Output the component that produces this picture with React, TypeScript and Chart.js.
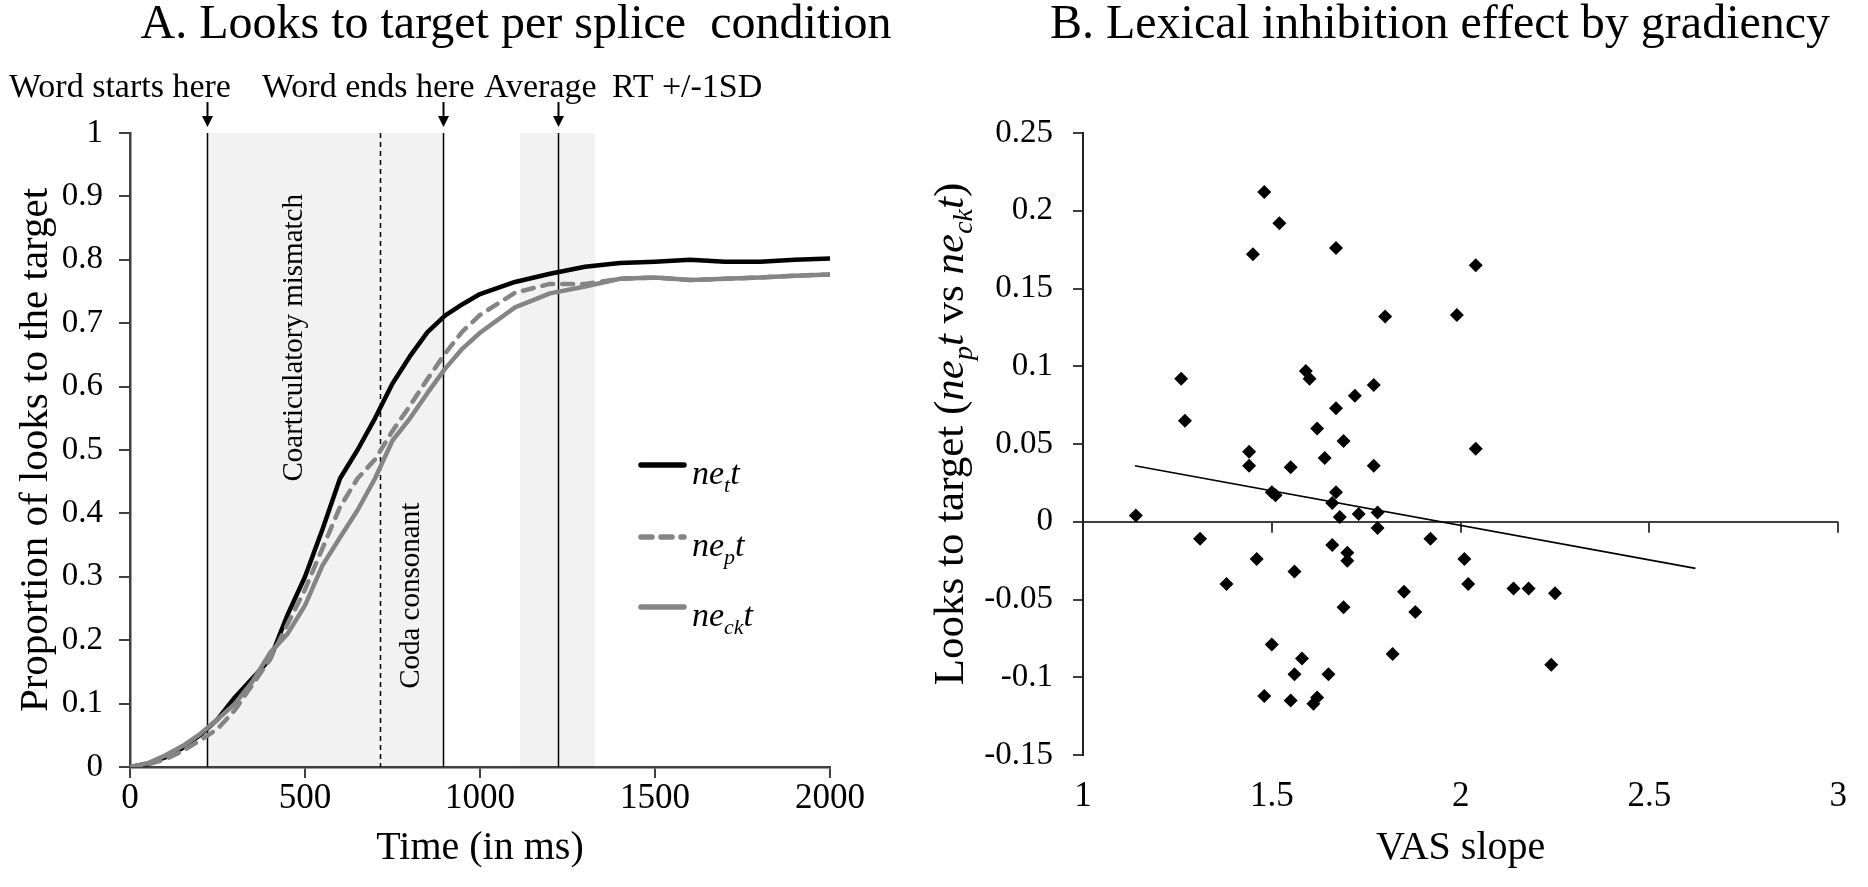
import React, { useEffect, useRef } from 'react';
import { Chart, registerables } from 'chart.js';

Chart.register(...registerables);

const SERIF = '"Liberation Serif", "Times New Roman", serif';

// ---------- Panel A data ----------
const timeMs = [0, 50, 100, 150, 200, 250, 300, 350, 400, 450, 500, 550, 600, 650, 700, 750, 800, 850, 900, 950, 1000, 1100, 1200, 1300, 1400, 1500, 1600, 1700, 1800, 1900, 2000];
const lookNeT = [0, 0.005, 0.015, 0.03, 0.05, 0.075, 0.11, 0.14, 0.17, 0.24, 0.3, 0.375, 0.455, 0.5, 0.55, 0.605, 0.648, 0.686, 0.712, 0.73, 0.746, 0.765, 0.778, 0.789, 0.795, 0.797, 0.8, 0.797, 0.797, 0.8, 0.802];
const lookNeP = [0, 0.004, 0.012, 0.025, 0.042, 0.06, 0.09, 0.13, 0.17, 0.225, 0.28, 0.345, 0.41, 0.455, 0.485, 0.53, 0.57, 0.612, 0.652, 0.687, 0.713, 0.748, 0.762, 0.762, 0.77, 0.772, 0.768, 0.77, 0.772, 0.775, 0.777];
const lookNeCk = [0, 0.006, 0.018, 0.033, 0.052, 0.075, 0.1, 0.135, 0.18, 0.21, 0.255, 0.318, 0.362, 0.405, 0.455, 0.515, 0.55, 0.59, 0.628, 0.66, 0.685, 0.725, 0.747, 0.758, 0.77, 0.772, 0.768, 0.77, 0.772, 0.775, 0.777];
const xTicksA = [0, 500, 1000, 1500, 2000];
const yTicksA = [0, 0.1, 0.2, 0.3, 0.4, 0.5, 0.6, 0.7, 0.8, 0.9, 1];
const wordStartMs = 221;
const coarticEndMs = 713;
const wordEndMs = 893;
const rtMeanMs = 1222;
const rtLowMs = 1114;
const rtHighMs = 1329;

// ---------- Panel B data ----------
const vasSlope = [1.48, 1.52, 1.45, 1.67, 2.04, 1.80, 1.99, 1.26, 1.59, 1.60, 1.77, 1.72, 1.67, 1.27, 1.62, 1.69, 2.04, 1.44, 1.44, 1.55, 1.64, 1.77, 1.14, 1.51, 1.50, 1.67, 1.66, 1.68, 1.73, 1.78, 1.78, 1.31, 1.92, 1.66, 1.70, 1.70, 1.46, 2.01, 1.56, 1.38, 2.02, 2.14, 2.18, 1.85, 1.88, 1.69, 1.50, 1.82, 1.58, 1.56, 1.65, 1.48, 1.55, 1.61, 1.62, 2.25, 2.24];
const lookDiff = [0.212, 0.192, 0.172, 0.176, 0.165, 0.132, 0.133, 0.092, 0.097, 0.092, 0.088, 0.081, 0.073, 0.065, 0.06, 0.052, 0.047, 0.045, 0.036, 0.035, 0.041, 0.036, 0.004, 0.017, 0.019, 0.019, 0.012, 0.003, 0.005, 0.006, -0.004, -0.011, -0.011, -0.015, -0.02, -0.025, -0.024, -0.024, -0.032, -0.04, -0.04, -0.043, -0.043, -0.045, -0.058, -0.055, -0.079, -0.085, -0.088, -0.098, -0.098, -0.112, -0.115, -0.117, -0.113, -0.046, -0.092];
const trendX = [1.1375, 2.622];
const trendY = [0.036, -0.03];
const xTicksB = [1, 1.5, 2, 2.5, 3];
const yTicksB = [-0.15, -0.1, -0.05, 0, 0.05, 0.1, 0.15, 0.2, 0.25];

type Part = { t: string; it?: boolean; sub?: boolean };

function drawParts(ctx: CanvasRenderingContext2D, parts: Part[], x: number, y: number, size: number, subSize: number, subDrop: number, center: boolean) {
  const fontOf = (p: Part) => `${p.it ? 'italic ' : ''}${p.sub ? subSize : size}px ${SERIF}`;
  let total = 0;
  for (const p of parts) {
    ctx.font = fontOf(p);
    total += ctx.measureText(p.t).width;
  }
  let cx = center ? x - total / 2 : x;
  ctx.textAlign = 'left';
  ctx.textBaseline = 'alphabetic';
  for (const p of parts) {
    ctx.font = fontOf(p);
    ctx.fillText(p.t, cx, y + (p.sub ? subDrop : 0));
    cx += ctx.measureText(p.t).width;
  }
}

function arrow(ctx: CanvasRenderingContext2D, x: number, y0: number, y1: number) {
  ctx.beginPath();
  ctx.moveTo(x, y0);
  ctx.lineTo(x, y1 - 8);
  ctx.lineWidth = 2;
  ctx.strokeStyle = '#000';
  ctx.stroke();
  ctx.beginPath();
  ctx.moveTo(x - 5.5, y1 - 11);
  ctx.lineTo(x + 5.5, y1 - 11);
  ctx.lineTo(x, y1);
  ctx.closePath();
  ctx.fillStyle = '#000';
  ctx.fill();
}

const panelAPlugin = {
  id: 'panelA',
  beforeDraw(chart: any) {
    const { ctx, scales } = chart;
    const x = scales.x;
    const y = scales.y;
    const yTop = y.getPixelForValue(1);
    const yBot = y.getPixelForValue(0);
    ctx.save();
    ctx.fillStyle = '#f2f2f2';
    const shade = (a: number, b: number) => {
      const xa = x.getPixelForValue(a);
      const xb = x.getPixelForValue(b);
      ctx.fillRect(xa, yTop, xb - xa, yBot - yTop);
    };
    shade(wordStartMs, wordEndMs);
    shade(rtLowMs, rtHighMs);
    ctx.restore();
  },
  beforeDatasetsDraw(chart: any) {
    const { ctx, scales } = chart;
    const x = scales.x;
    const y = scales.y;
    const yTop = y.getPixelForValue(1);
    const yBot = y.getPixelForValue(0);
    ctx.save();
    ctx.strokeStyle = '#000';
    ctx.lineWidth = 1.5;
    for (const v of [wordStartMs, wordEndMs, rtMeanMs]) {
      const px = Math.round(x.getPixelForValue(v)) + 0.5;
      ctx.beginPath();
      ctx.moveTo(px, yTop);
      ctx.lineTo(px, yBot);
      ctx.stroke();
    }
    ctx.setLineDash([5, 4]);
    const pd = Math.round(x.getPixelForValue(coarticEndMs)) + 0.5;
    ctx.beginPath();
    ctx.moveTo(pd, yTop);
    ctx.lineTo(pd, yBot);
    ctx.stroke();
    ctx.setLineDash([]);

    ctx.fillStyle = '#000';
    ctx.font = `29px ${SERIF}`;
    ctx.textAlign = 'center';
    ctx.textBaseline = 'middle';
    const rot = (txt: string, ms: number, val: number) => {
      ctx.save();
      ctx.translate(x.getPixelForValue(ms), y.getPixelForValue(val));
      ctx.rotate(-Math.PI / 2);
      ctx.fillText(txt, 0, 0);
      ctx.restore();
    };
    rot('Coarticulatory mismatch', 470, 0.677);
    rot('Coda consonant', 805, 0.27);
    ctx.restore();
  },
  afterDraw(chart: any) {
    const { ctx, scales } = chart;
    const x = scales.x;
    ctx.save();
    ctx.fillStyle = '#000';
    ctx.font = `48px ${SERIF}`;
    ctx.textAlign = 'center';
    ctx.textBaseline = 'alphabetic';
    ctx.fillText('A. Looks to target per splice  condition', 516, 38);

    ctx.font = `34px ${SERIF}`;
    ctx.textAlign = 'left';
    ctx.fillText('Word starts here', 9, 97);
    ctx.fillText('Word ends here', 262, 97);
    ctx.fillText('Average', 484, 97);
    ctx.fillText('RT +/-1SD', 612, 97);

    for (const v of [wordStartMs, wordEndMs, rtMeanMs]) {
      arrow(ctx, Math.round(x.getPixelForValue(v)) + 0.5, 102, 127);
    }

    // legend
    const legend = [
      { color: '#000', dash: [] as number[], y: 465, sub: 't' },
      { color: '#858585', dash: [11, 9], y: 537, sub: 'p' },
      { color: '#858585', dash: [] as number[], y: 607, sub: 'ck' },
    ];
    for (const l of legend) {
      ctx.beginPath();
      ctx.strokeStyle = l.color;
      ctx.lineWidth = 5.5;
      ctx.lineCap = 'round';
      ctx.setLineDash(l.dash);
      ctx.moveTo(641, l.y);
      ctx.lineTo(684, l.y);
      ctx.stroke();
      ctx.setLineDash([]);
      ctx.fillStyle = '#000';
      drawParts(ctx, [{ t: 'ne', it: true }, { t: l.sub, it: true, sub: true }, { t: 't', it: true }], 692, l.y + 19, 34, 22, 8, false);
    }
    ctx.restore();
  },
};

const panelBPlugin = {
  id: 'panelB',
  beforeDatasetsDraw(chart: any) {
    const { ctx, scales } = chart;
    const x = scales.x;
    const y = scales.y;
    const py = y.getPixelForValue(0);
    ctx.save();
    ctx.strokeStyle = '#404040';
    ctx.lineWidth = 2;
    for (const v of xTicksB) {
      if (v === xTicksB[0]) continue;
      const px = Math.round(x.getPixelForValue(v));
      ctx.beginPath();
      ctx.moveTo(px, py);
      ctx.lineTo(px, py + 11);
      ctx.stroke();
    }
    ctx.restore();
  },
  afterDraw(chart: any) {
    const { ctx } = chart;
    ctx.save();
    ctx.fillStyle = '#000';
    ctx.font = `48px ${SERIF}`;
    ctx.textAlign = 'center';
    ctx.textBaseline = 'alphabetic';
    ctx.fillText('B. Lexical inhibition effect by gradiency', 540, 38);

    ctx.translate(49, 434);
    ctx.rotate(-Math.PI / 2);
    drawParts(
      ctx,
      [
        { t: 'Looks to target (' },
        { t: 'ne', it: true },
        { t: 'p', it: true, sub: true },
        { t: 't', it: true },
        { t: ' vs ' },
        { t: 'ne', it: true },
        { t: 'ck', it: true, sub: true },
        { t: 't', it: true },
        { t: ')' },
      ],
      0,
      14,
      43,
      28,
      9,
      true
    );
    ctx.restore();
  },
};

export default function App() {
  const refA = useRef<HTMLCanvasElement>(null);
  const refB = useRef<HTMLCanvasElement>(null);

  useEffect(() => {
    const tickFontY = { family: SERIF, size: 33 };
    const tickFontX = { family: SERIF, size: 35 };

    const chartA = new Chart(refA.current as HTMLCanvasElement, {
      type: 'line',
      data: {
        datasets: [
          {
            label: 'net',
            data: timeMs.map((t, i) => ({ x: t, y: lookNeT[i] })),
            borderColor: '#000',
            borderWidth: 4.5,
            pointRadius: 0,
            tension: 0,
            borderJoinStyle: 'round',
            order: 2,
          },
          {
            label: 'nept',
            data: timeMs.map((t, i) => ({ x: t, y: lookNeP[i] })),
            borderColor: '#858585',
            borderWidth: 4.5,
            borderDash: [11, 9],
            borderCapStyle: 'round',
            borderJoinStyle: 'round',
            pointRadius: 0,
            tension: 0,
            order: 1,
          },
          {
            label: 'neckt',
            data: timeMs.map((t, i) => ({ x: t, y: lookNeCk[i] })),
            borderColor: '#858585',
            borderWidth: 4.5,
            borderJoinStyle: 'round',
            pointRadius: 0,
            tension: 0,
            order: 0,
          },
        ],
      } as any,
      options: {
        responsive: false,
        animation: false,
        events: [],
        layout: { padding: { top: 133, right: 70, left: 0, bottom: 0 } },
        plugins: { legend: { display: false }, tooltip: { enabled: false }, title: { display: false } },
        scales: {
          x: {
            type: 'linear',
            min: 0,
            max: 2000,
            afterBuildTicks: (s: any) => {
              s.ticks = xTicksA.map((v) => ({ value: v }));
            },
            afterFit: (s: any) => {
              s.height = 120;
            },
            grid: { drawOnChartArea: false, drawTicks: true, tickLength: 11, color: '#404040', lineWidth: 2 },
            border: { display: true, color: '#404040', width: 2.5 },
            ticks: { font: tickFontX, color: '#000', padding: 0, maxRotation: 0, callback: (v: any) => String(v) },
            title: { display: true, text: 'Time (in ms)', font: { family: SERIF, size: 40 }, color: '#000', padding: { top: 0, bottom: 15 } },
          },
          y: {
            type: 'linear',
            min: 0,
            max: 1,
            afterBuildTicks: (s: any) => {
              s.ticks = yTicksA.map((v) => ({ value: v }));
            },
            afterFit: (s: any) => {
              s.width = 130;
            },
            grid: { drawOnChartArea: false, drawTicks: true, tickLength: 11, color: '#404040', lineWidth: 2 },
            border: { display: true, color: '#404040', width: 2.5 },
            ticks: { font: tickFontY, color: '#000', padding: 16, callback: (v: any) => String(v) },
            title: { display: true, text: 'Proportion of looks to the target', font: { family: SERIF, size: 41 }, color: '#000', padding: { top: 12, bottom: 0 } },
          },
        },
      } as any,
      plugins: [panelAPlugin],
    });

    const chartB = new Chart(refB.current as HTMLCanvasElement, {
      type: 'scatter',
      data: {
        datasets: [
          {
            label: 'effect',
            data: vasSlope.map((v, i) => ({ x: v, y: lookDiff[i] })),
            pointStyle: 'rectRot',
            pointRadius: 7,
            backgroundColor: '#000',
            borderWidth: 0,
            order: 1,
          },
          {
            label: 'trend',
            data: trendX.map((v, i) => ({ x: v, y: trendY[i] })),
            showLine: true,
            borderColor: '#000',
            borderWidth: 1.6,
            pointRadius: 0,
            order: 0,
          },
        ],
      } as any,
      options: {
        responsive: false,
        animation: false,
        events: [],
        layout: { padding: { top: 133, right: 13, left: 0, bottom: 0 } },
        plugins: { legend: { display: false }, tooltip: { enabled: false }, title: { display: false } },
        scales: {
          x: {
            type: 'linear',
            min: 1,
            max: 3,
            afterBuildTicks: (s: any) => {
              s.ticks = xTicksB.map((v) => ({ value: v }));
            },
            afterFit: (s: any) => {
              s.height = 132;
            },
            grid: { display: false, drawTicks: false },
            border: { display: false },
            ticks: { font: tickFontX, color: '#000', padding: 21, maxRotation: 0, callback: (v: any) => String(v) },
            title: { display: true, text: 'VAS slope', font: { family: SERIF, size: 40 }, color: '#000', padding: { top: 0, bottom: 15 } },
          },
          y: {
            type: 'linear',
            min: -0.15,
            max: 0.25,
            afterBuildTicks: (s: any) => {
              s.ticks = yTicksB.map((v) => ({ value: v }));
            },
            afterFit: (s: any) => {
              s.width = 183;
            },
            grid: {
              drawOnChartArea: true,
              drawTicks: true,
              tickLength: 10,
              color: (c: any) => (c.tick && c.tick.value === 0 ? '#404040' : 'rgba(0,0,0,0)'),
              tickColor: '#404040',
              lineWidth: 2,
            },
            border: { display: true, color: '#202020', width: 2 },
            ticks: { font: tickFontY, color: '#000', padding: 20, callback: (v: any) => String(v) },
          },
        },
      } as any,
      plugins: [panelBPlugin],
    });

    return () => {
      chartA.destroy();
      chartB.destroy();
    };
  }, []);

  return (
    <div style={{ position: 'fixed', left: 0, top: 0, width: 1868, height: 887, background: '#fff', overflow: 'hidden' }}>
      <canvas ref={refA} width={900} height={887} style={{ position: 'absolute', left: 0, top: 0, width: 900, height: 887 }} />
      <canvas ref={refB} width={968} height={887} style={{ position: 'absolute', left: 900, top: 0, width: 968, height: 887 }} />
    </div>
  );
}
